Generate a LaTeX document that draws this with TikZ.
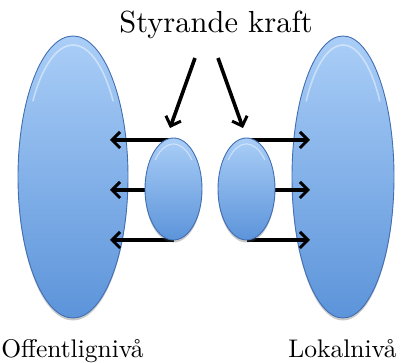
\documentclass[tikz,border=0pt]{standalone}
\usepackage{fontspec}
\setmainfont{lmroman10-regular}[Extension=.otf]
\usetikzlibrary{shapes.geometric,arrows.meta,shadows}
\definecolor{blobtop}{RGB}{170,206,247}
\definecolor{blobbot}{RGB}{92,148,218}
\definecolor{blobedge}{RGB}{66,110,178}
\tikzset{
  blob/.style={ellipse, inner sep=0pt, top color=blobtop, bottom color=blobbot,
    draw=blobedge, line width=0.9pt,
    drop shadow={shadow xshift=0pt, shadow yshift=-2.5pt, opacity=0.3, fill=black!70}},
  gloss/.style={white, opacity=0.45, line width=1.6pt},
  force/.style={line width=3.6pt, -{Straight Barb[length=8pt,width=16pt,line width=3pt]}},
  lbl/.style={anchor=base, inner sep=0pt, font=\fontsize{25.5}{30}\selectfont},
  ttl/.style={anchor=base, inner sep=0pt, font=\fontsize{30.5}{36}\selectfont}
}
\begin{document}
\begin{tikzpicture}[x=1pt,y=-1pt]
\useasboundingbox (0,0) rectangle (405,363);
\node[blob, minimum width=110pt, minimum height=282pt] (bl) at (73,177) {};
\node[blob, minimum width=102pt, minimum height=282pt] (br) at (343,177) {};
\draw[gloss] (73,177) ++(215:49 and 132) arc[start angle=215, end angle=325, x radius=49, y radius=132];
\draw[gloss] (343,177) ++(215:45 and 132) arc[start angle=215, end angle=325, x radius=45, y radius=132];
\node[ttl] (title) at (216,33) {Styrande kraft};
\node[lbl] (ll) at (72.5,358) {Offentlignivå};
\node[lbl] (lr) at (342.5,358) {Lokalnivå};
% coordinates for arrow ends
\coordinate (t1) at (110,140);
\coordinate (t2) at (110,190);
\coordinate (t3) at (110,240);
\coordinate (u1) at (310,140);
\coordinate (u2) at (310,190);
\coordinate (u3) at (310,240);
\coordinate (d1s) at (195,58);
\coordinate (d1e) at (170,128);
\coordinate (d2s) at (218,58);
\coordinate (d2e) at (243,128);
\coordinate (sl) at (173.5,189);
\coordinate (sr) at (246.5,189);
\draw[force] (sl |- t1) -- (t1);
\draw[force] (sl |- t2) -- (t2);
\draw[force] (sl |- t3) -- (t3);
\draw[force] (sr |- u1) -- (u1);
\draw[force] (sr |- u2) -- (u2);
\draw[force] (sr |- u3) -- (u3);
\node[blob, minimum width=57pt, minimum height=102pt] (el) at (sl) {};
\node[blob, minimum width=57pt, minimum height=102pt] (er) at (sr) {};
\draw[gloss, line width=1.2pt] (173.5,189) ++(220:24 and 45) arc[start angle=220, end angle=320, x radius=24, y radius=45];
\draw[gloss, line width=1.2pt] (246.5,189) ++(220:24 and 45) arc[start angle=220, end angle=320, x radius=24, y radius=45];
\draw[force] (d1s) -- (d1e);
\draw[force] (d2s) -- (d2e);
\end{tikzpicture}
\end{document}
